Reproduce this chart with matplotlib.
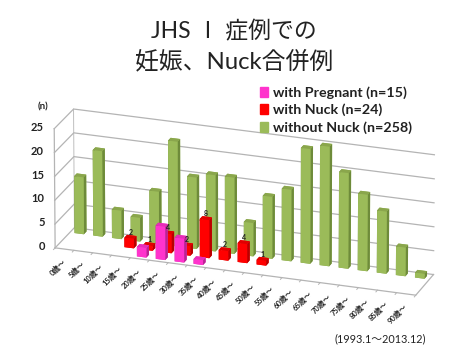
import numpy as np
import matplotlib
matplotlib.use("Agg")
import matplotlib.pyplot as plt
from matplotlib.patches import Patch
from mpl_toolkits.mplot3d import proj3d

plt.rcParams['font.family'] = ['Lato', 'Noto Sans CJK JP', 'DejaVu Sans']

# values
AGES = ['0歳～', '5歳～', '10歳～', '15歳～', '20歳～', '25歳～', '30歳～', '35歳～', '40歳～', '45歳～',
        '50歳～', '55歳～', '60歳～', '65歳～', '70歳～', '75歳～', '80歳～', '85歳～', '90歳～']
WITHOUT_NUCK = [12, 18, 6, 5, 11, 22, 15, 16, 16, 7, 13, 15, 24, 25, 20, 16, 13, 6, 1]
WITH_NUCK = [0, 0, 0, 2, 1, 4, 2, 8, 2, 4, 1, 0, 0, 0, 0, 0, 0, 0, 0]
WITH_PREGNANT = [0, 0, 0, 0, 2, 7, 5, 1, 0, 0, 0, 0, 0, 0, 0, 0, 0, 0, 0]
Z_TICKS = [0, 5, 10, 15, 20, 25]
LEGEND_LABELS = ['with Pregnant (n=15)', 'with Nuck (n=24)', 'without Nuck (n=258)']

# colours: front, top, side
GREEN = ('#9BBB59', '#8AA64C', '#6E8B3A')
RED = ('#FF0000', '#E00000', '#B80000')
PINK = ('#FF33CC', '#E62DB8', '#B82492')
GRID = '#B4B4B4'
TEXT = '#222222'
BAR_W = 0.5
BAR_D = 0.42


def draw_bars(ax, values, row, colours, zorder):
    """One row of bars, lying along the x axis at depth row."""
    vals = np.array(values, dtype=float)
    xs = np.arange(len(vals))[vals > 0] - BAR_W / 2
    heights = vals[vals > 0]
    front, top, side = colours
    # bar3d face order: bottom, top, front, back, left, right
    faces = [top, top, front, front, side, side] * len(xs)
    coll = ax.bar3d(xs, np.full(len(xs), row + 0.5 - BAR_D / 2), np.zeros(len(xs)),
                    BAR_W, BAR_D, heights, color=faces, shade=False, zorder=zorder)
    coll.set_edgecolor('none')


def label3d(ax, x, y, z, s, **kwargs):
    """Flat text at a 3D data position (Text3D would ignore rotation)."""
    xp, yp, _ = proj3d.proj_transform(x, y, z, ax.get_proj())
    return ax.text2D(xp, yp, s, transform=ax.transData, color=TEXT, fontweight='bold', **kwargs)


fig = plt.figure(figsize=(4.7, 3.53), dpi=100)
ax = fig.add_axes([0.005, -0.289, 1.0, 1.4], projection='3d', computed_zorder=False)
ax.set_proj_type('persp', focal_length=4)
ax.view_init(elev=22, azim=-71)
ax.set_xlim(-0.5, len(AGES) - 0.5)
ax.set_ylim(0, 3)
ax.set_zlim(0, 25)
ax.set_box_aspect((382, 57, 129), zoom=0.84)
ax.set_axis_off()

x0, x1 = -0.5, len(AGES) - 0.5

# walls and floor
for z in Z_TICKS:
    ax.plot([x0, x0, x1], [0, 3, 3], [z, z, z], color=GRID, lw=0.9, zorder=1)
ax.plot([x0, x0], [0, 0], [0, 25], color=GRID, lw=0.9, zorder=1)
ax.plot([x0, x0], [3, 3], [0, 25], color=GRID, lw=0.6, zorder=1)
ax.plot([x0, x1, x1], [0, 0, 3], [0, 0, 0], color=GRID, lw=0.9, zorder=1)
for x in np.arange(x0, x1 + 0.5):
    ax.plot([x, x], [0, -0.25], [0, 0], color=GRID, lw=0.7, zorder=1)

draw_bars(ax, WITHOUT_NUCK, 2, GREEN, 3)
draw_bars(ax, WITH_NUCK, 1, RED, 4)
draw_bars(ax, WITH_PREGNANT, 0, PINK, 5)

# data labels on the red bars
for i, v in enumerate(WITH_NUCK):
    if v > 0:
        label3d(ax, i, 1.5, v + 1.0, str(v), fontsize=5, ha='center', va='center', zorder=6)

# axis labels
for z in Z_TICKS:
    label3d(ax, x0 - 0.55, 0, z, str(z), fontsize=8, ha='right', va='center')
for i, age in enumerate(AGES):
    label3d(ax, i + 0.1, -0.3, -1.8, age, fontsize=5.5, rotation=45, ha='right', va='center',
            rotation_mode='anchor')

fig.text(0.498, 0.91, 'JHS Ⅰ 症例での', fontsize=16.5, ha='center', va='center', color=TEXT)
fig.text(0.498, 0.828, '妊娠、Nuck合併例', fontsize=17.2, ha='center', va='center', color=TEXT)
fig.text(0.091, 0.697, '(n)', fontsize=7, fontweight='bold', ha='center', va='center', color=TEXT)
fig.text(0.81, 0.04, '(1993.1～2013.12)', fontsize=7.8, ha='center', va='center', color=TEXT)

handles = [Patch(color=PINK[0]), Patch(color=RED[0]), Patch(color=GREEN[0])]
fig.legend(handles, LEGEND_LABELS, loc='upper left', bbox_to_anchor=(0.5375, 0.775), frameon=False,
           prop={'size': 10.3, 'weight': 'bold'}, labelspacing=0.32, handlelength=0.55,
           handleheight=0.7, handletextpad=0.35, borderpad=0, labelcolor=TEXT)

fig.savefig('out.png', dpi=100, facecolor='white')
